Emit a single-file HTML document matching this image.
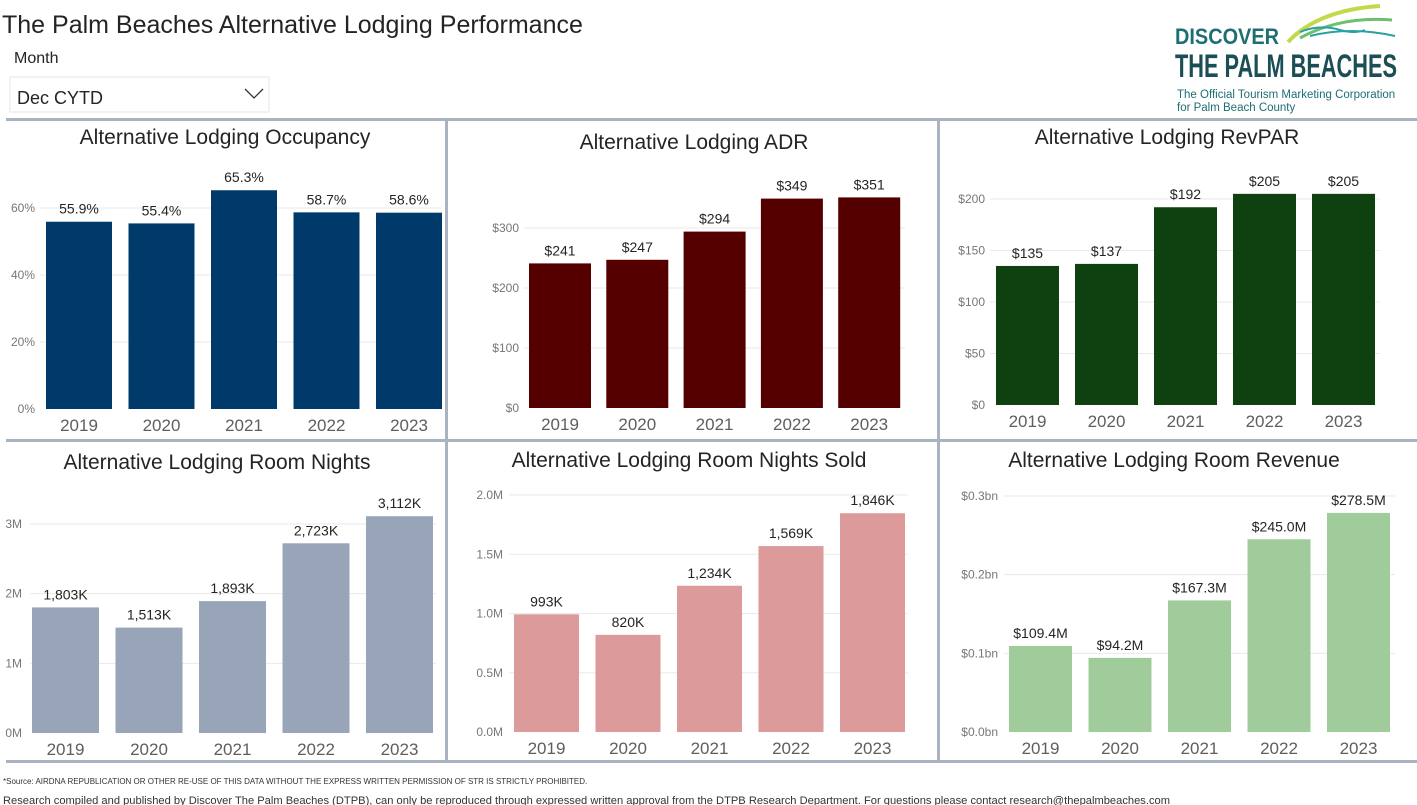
<!DOCTYPE html>
<html><head><meta charset="utf-8"><style>
body{margin:0;width:1417px;height:805px;background:#fff;overflow:hidden;font-family:"Liberation Sans",sans-serif;}
svg{position:absolute;left:0;top:0}
</style></head><body>
<svg id="s" width="1417" height="805">
<text x="2" y="33" font-size="25" fill="#252423">The Palm Beaches Alternative Lodging Performance</text>
<text x="14" y="63" font-size="16" fill="#252423">Month</text>
<g>
<rect x="10" y="77" width="259" height="35" fill="#fff" stroke="#e6e6e6"/>
<text x="17" y="104" font-size="18" fill="#252423">Dec CYTD</text>
<path d="M245 89 L254 98 L263 89" fill="none" stroke="#333" stroke-width="1.3"/>
</g>
<g>
<text x="1175" y="44" font-size="22" font-weight="bold" fill="#1d6f74" textLength="104" lengthAdjust="spacingAndGlyphs">DISCOVER</text>
<text x="1175" y="77" font-size="32" font-weight="bold" fill="#1b4e55" textLength="222" lengthAdjust="spacingAndGlyphs">THE PALM BEACHES</text>
<text x="1177" y="98" font-size="11.5" fill="#1d6f74">The Official Tourism Marketing Corporation</text>
<text x="1177" y="111" font-size="11.5" fill="#1d6f74">for Palm Beach County</text>
<path d="M1288 42 Q1318 10 1380 6" stroke="#c4d94a" stroke-width="4" fill="none"/>
<path d="M1300 38 Q1340 16 1392 20" stroke="#6cc070" stroke-width="3" fill="none"/>
<path d="M1310 36 Q1350 26 1395 36" stroke="#2aa0a0" stroke-width="2" fill="none"/>
<path d="M1300 32 Q1320 24 1340 30 Q1355 34 1365 30" stroke="#2aa0a0" stroke-width="2" fill="none"/>
</g>
<g fill="#a9b3c1">
<rect x="6" y="118" width="1411" height="3"/>
<rect x="6" y="439" width="1411" height="3"/>
<rect x="445" y="118" width="3" height="644"/>
<rect x="937" y="118" width="3" height="644"/>
<rect x="6" y="760" width="1411" height="3"/>
</g>
<text x="3" y="784" font-size="8" fill="#333">*Source: AIRDNA REPUBLICATION OR OTHER RE-USE OF THIS DATA WITHOUT THE EXPRESS WRITTEN PERMISSION OF STR IS STRICTLY PROHIBITED.</text>
<text x="3" y="804" font-size="11" fill="#333" textLength="1167" lengthAdjust="spacingAndGlyphs">Research compiled and published by Discover The Palm Beaches (DTPB), can only be reproduced through expressed written approval from the DTPB Research Department. For questions please contact research@thepalmbeaches.com</text>
</svg>
<script>
const years=["2019","2020","2021","2022","2023"];
const occValues=[55.9,55.4,65.3,58.7,58.6];
const occLabels=["55.9%","55.4%","65.3%","58.7%","58.6%"];
const occTicks=[0,20,40,60];
const occTickLabels=["0%","20%","40%","60%"];
const adrValues=[241,247,294,349,351];
const adrLabels=["$241","$247","$294","$349","$351"];
const adrTicks=[0,100,200,300];
const adrTickLabels=["$0","$100","$200","$300"];
const revparValues=[135,137,192,205,205];
const revparLabels=["$135","$137","$192","$205","$205"];
const revparTicks=[0,50,100,150,200];
const revparTickLabels=["$0","$50","$100","$150","$200"];
const rnValues=[1803,1513,1893,2723,3112];
const rnLabels=["1,803K","1,513K","1,893K","2,723K","3,112K"];
const rnTicks=[0,1000,2000,3000];
const rnTickLabels=["0M","1M","2M","3M"];
const rnsValues=[993,820,1234,1569,1846];
const rnsLabels=["993K","820K","1,234K","1,569K","1,846K"];
const rnsTicks=[0,500,1000,1500,2000];
const rnsTickLabels=["0.0M","0.5M","1.0M","1.5M","2.0M"];
const revValues=[109.4,94.2,167.3,245.0,278.5];
const revLabels=["$109.4M","$94.2M","$167.3M","$245.0M","$278.5M"];
const revTicks=[0,100,200,300];
const revTickLabels=["$0.0bn","$0.1bn","$0.2bn","$0.3bn"];

const NS="http://www.w3.org/2000/svg";
const svg=document.getElementById('s');
function mk(tag,attrs,parent){const e=document.createElementNS(NS,tag);for(const k in attrs)e.setAttribute(k,attrs[k]);(parent||svg).appendChild(e);return e;}
function chart(o,vals,labels,ticks,tickLabels){
  const g=mk('g',{});
  
  
  const t=mk('text',{x:o.tx,y:o.ty,'font-size':21,fill:'#252423','text-anchor':'middle'},g);
  t.textContent=o.title;
  
  
  const yy=v=>o.base-v*(o.base-o.topY)/o.topV;
  ticks.forEach((tv,i)=>{
    const py=yy(tv);
    if(tv>0){const l=mk('line',{x1:o.gx1,x2:o.gx2,y1:py,y2:py,stroke:'#eaeaea','stroke-width':1},g);
      
      }
    const tl=mk('text',{x:o.tickX,y:py+4,'font-size':12,fill:'#777','text-anchor':'end'},g);
    tl.textContent=tickLabels[i];
    
    
  });
  vals.forEach((v,i)=>{
    const x=o.x0+i*o.step;
    const py=yy(v);
    const r=mk('rect',{x:x,y:py,width:o.bw,height:o.base-py,fill:o.color},g);
    
    
    const lt=mk('text',{x:x+o.bw/2,y:py-8,'font-size':14,fill:'#252423','text-anchor':'middle'},g);
    lt.textContent=labels[i];
    
    
    const yt=mk('text',{x:x+o.bw/2,y:o.base+22,'font-size':17,fill:'#605e5c','text-anchor':'middle'},g);
    yt.textContent=years[i];
    
    
  });
}
chart({name:'occupancy-chart',title:'Alternative Lodging Occupancy',tx:225,ty:144,base:409,topY:208,topV:60,x0:46,step:82.5,bw:66,tickX:35,gx1:40,gx2:442,color:'#003a6b'},occValues,occLabels,occTicks,occTickLabels);
chart({name:'adr-chart',title:'Alternative Lodging ADR',tx:694,ty:149,base:408,topY:228,topV:300,x0:529,step:77.3,bw:62,tickX:519,gx1:524,gx2:905,color:'#550000'},adrValues,adrLabels,adrTicks,adrTickLabels);
chart({name:'revpar-chart',title:'Alternative Lodging RevPAR',tx:1167,ty:144,base:405,topY:199,topV:200,x0:996,step:79,bw:63,tickX:985,gx1:990,gx2:1380,color:'#0e4010'},revparValues,revparLabels,revparTicks,revparTickLabels);
chart({name:'room-nights-chart',title:'Alternative Lodging Room Nights',tx:217,ty:469,base:733,topY:524,topV:3000,x0:32,step:83.5,bw:67,tickX:22,gx1:30,gx2:436,color:'#98a4b8'},rnValues,rnLabels,rnTicks,rnTickLabels);
chart({name:'room-nights-sold-chart',title:'Alternative Lodging Room Nights Sold',tx:689,ty:467,base:732,topY:495,topV:2000,x0:514,step:81.5,bw:65,tickX:503,gx1:509,gx2:908,color:'#dc9a9a'},rnsValues,rnsLabels,rnsTicks,rnsTickLabels);
chart({name:'room-revenue-chart',title:'Alternative Lodging Room Revenue',tx:1174,ty:467,base:732,topY:496,topV:300,x0:1009,step:79.5,bw:63,tickX:998,gx1:1004,gx2:1395,color:'#a0cc9c'},revValues,revLabels,revTicks,revTickLabels);
</script>
</body></html>
